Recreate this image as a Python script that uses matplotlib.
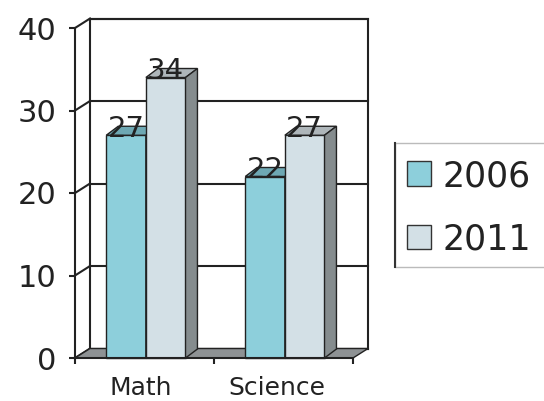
import matplotlib.pyplot as plt
from matplotlib.patches import Polygon, Rectangle, Patch
from matplotlib.lines import Line2D
import numpy as np

# data
subjects = ['Math', 'Science']
years = ['2006', '2011']
scores_2006 = [27, 22]
scores_2011 = [34, 27]

front_colors = ['#8dcfdb', '#d3e0e6']
top_colors = ['#6ea8b3', '#aeb6ba']
side_color = '#858c8e'
floor_color = '#8e9294'
ink = '#222222'

fig = plt.figure(figsize=(5.44, 4.01), dpi=100)
ax = fig.add_axes([75 / 544, 43 / 401, 278 / 544, 330 / 401])
ax.set_xlim(0, 2)
ax.set_ylim(0, 40)
ax.patch.set_visible(False)

# depth of the walls and of the bars (data units)
wdx, wdy = 0.108, 1.15
bdx, bdy = 0.086, 1.09
bar_w = 0.285

yticks = np.arange(0, 41, 10)

# back wall with gridlines
ax.add_patch(Rectangle((wdx, wdy), 2, 40, facecolor='white', edgecolor=ink,
                       lw=1.5, clip_on=False, zorder=1))
for t in yticks:
    ax.plot([wdx, 2 + wdx], [t + wdy, t + wdy], color=ink, lw=1.5,
            clip_on=False, zorder=1.5)
    # diagonal on the left wall
    ax.plot([0, wdx], [t, t + wdy], color=ink, lw=1.5, clip_on=False, zorder=1.5)

# floor
ax.add_patch(Polygon([(0, 0), (2, 0), (2 + wdx, wdy), (wdx, wdy)],
                     facecolor=floor_color, edgecolor=ink, lw=1,
                     clip_on=False, zorder=2))


def draw_bar(x0, h, k):
    x1 = x0 + bar_w
    ax.add_patch(Rectangle((x0, 0), bar_w, h, facecolor=front_colors[k],
                           edgecolor=ink, lw=1, zorder=3, clip_on=False))
    ax.add_patch(Polygon([(x0, h), (x1, h), (x1 + bdx, h + bdy), (x0 + bdx, h + bdy)],
                         facecolor=top_colors[k], edgecolor=ink, lw=1,
                         zorder=3, clip_on=False))
    ax.add_patch(Polygon([(x1, 0), (x1 + bdx, bdy), (x1 + bdx, h + bdy), (x1, h)],
                         facecolor=side_color, edgecolor=ink, lw=1,
                         zorder=3, clip_on=False))
    ax.text(x0 + bar_w / 2, h - 0.2, str(h), ha='center', va='baseline',
            fontsize=21, color=ink, zorder=5)


for i, s in enumerate(subjects):
    centre = i + 0.51
    draw_bar(centre - bar_w, scores_2006[i], 0)
    draw_bar(centre, scores_2011[i], 1)

# axes
for side in ['top', 'right']:
    ax.spines[side].set_visible(False)
for side in ['left', 'bottom']:
    ax.spines[side].set_color(ink)
    ax.spines[side].set_linewidth(1.5)
    ax.spines[side].set_zorder(4)

ax.set_yticks(yticks)
ax.tick_params(axis='y', length=4.5, width=1.5, color=ink, pad=9,
               labelsize=22, labelcolor=ink)
ax.set_xticks([0, 1, 2])
ax.set_xticklabels([])
ax.tick_params(axis='x', which='major', length=4, width=1.5, color=ink)
ax.set_xticks([0.47, 1.45], minor=True)
ax.set_xticklabels(subjects, minor=True)
ax.tick_params(axis='x', which='minor', length=0, pad=13, labelsize=18,
               labelcolor=ink)

# legend
fig.patches.append(Rectangle((395 / 544, 134 / 401), 170 / 544, 124 / 401,
                             transform=fig.transFigure, facecolor='white',
                             edgecolor='#bbbbbb', lw=1))
fig.lines.append(Line2D([395 / 544, 395 / 544], [134 / 401, 258 / 401],
                        transform=fig.transFigure, color='#333333', lw=1.5))
handles = [Patch(facecolor=front_colors[k], edgecolor='#333333', lw=1)
           for k in range(len(years))]
fig.legend(handles, years, loc='upper left',
           bbox_to_anchor=(407 / 544, 1 - 159 / 401), frameon=False,
           fontsize=25, handlelength=0.69, handleheight=0.72,
           handletextpad=0.32, labelspacing=0.84, borderpad=0,
           borderaxespad=0, labelcolor=ink)

fig.savefig('out.png', dpi=100)
